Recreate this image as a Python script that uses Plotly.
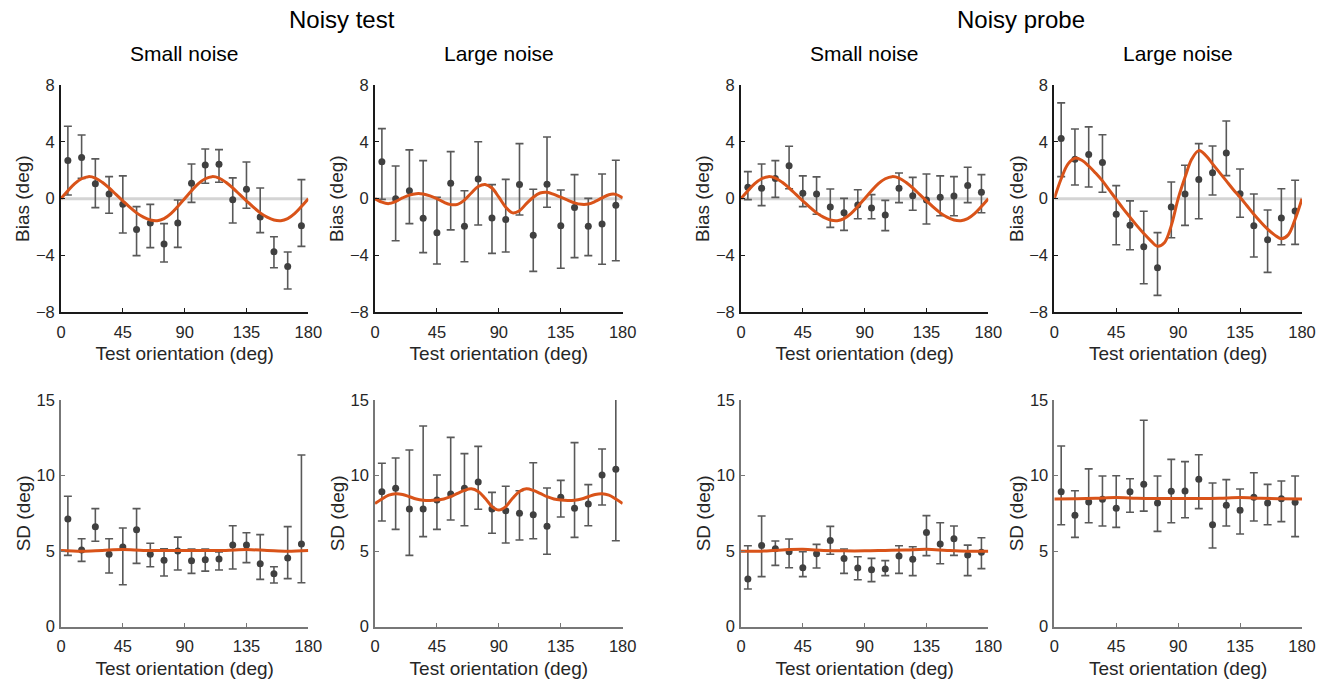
import plotly.graph_objects as go

# ---------------- data ----------------
orient = [5, 15, 25, 35, 45, 55, 65, 75, 85, 95, 105, 115, 125, 135, 145, 155, 165, 175]
grid5 = list(range(0, 181, 5))
grid15 = list(range(0, 181, 15))

# Noisy test, small noise, bias
t_small_bias = [2.68, 2.9, 1.05, 0.33, -0.4, -2.18, -1.71, -3.19, -1.71, 1.08, 2.37, 2.42, -0.07, 0.66, -1.29, -3.73, -4.77, -1.9]
t_small_bias_hi = [5.1, 4.48, 2.8, 1.55, 1.6, -0.56, -0.4, -1.76, -0.09, 2.44, 3.5, 3.45, 1.46, 2.58, 0.75, -2.68, -3.76, 1.34]
t_small_bias_lo = [0.26, 1.43, -0.63, -1.03, -2.42, -4.01, -3.45, -4.46, -3.43, -0.26, 1.08, 1.15, -1.71, -0.68, -2.39, -4.86, -6.36, -3.36]

# Noisy test, large noise, bias
t_large_bias = [2.6, 0.0, 0.56, -1.38, -2.4, 1.08, -1.95, 1.38, -1.36, -1.46, 0.99, -2.58, 1.01, -1.9, -0.63, -1.95, -1.78, -0.47]
t_large_bias_hi = [4.93, 2.3, 3.43, 2.68, 0.1, 3.31, 0.56, 4.01, 0.99, 1.36, 3.87, 0.66, 4.34, 0.61, 1.69, 0.02, 1.74, 2.7]
t_large_bias_lo = [-0.05, -2.96, -1.76, -3.8, -4.6, -2.2, -4.44, -1.85, -3.85, -3.76, -1.15, -5.12, -0.61, -4.9, -4.15, -4.01, -4.62, -4.37]

# Noisy probe, small noise, bias
p_small_bias = [0.8, 0.73, 1.41, 2.32, 0.38, 0.33, -0.59, -0.99, -0.45, -0.66, -1.15, 0.73, 0.21, -0.09, 0.09, 0.19, 0.92, 0.45]
p_small_bias_hi = [1.9, 2.44, 2.68, 3.69, 1.6, 1.53, 0.68, 0.02, 0.63, 0.28, -0.12, 1.81, 1.5, 1.74, 1.6, 1.55, 2.21, 1.69]
p_small_bias_lo = [-0.07, -0.49, 0.09, 0.7, -0.56, -1.1, -2.02, -2.23, -1.41, -1.41, -2.25, -0.28, -0.82, -1.78, -1.2, -1.2, -0.28, -0.99]

# Noisy probe, large noise, bias
p_large_bias = [4.23, 2.77, 3.1, 2.54, -1.1, -1.88, -3.38, -4.86, -0.59, 0.33, 1.34, 1.83, 3.22, 0.35, -1.9, -2.89, -1.36, -0.87]
p_large_bias_hi = [6.74, 4.9, 5.05, 4.5, 0.92, -0.16, -0.89, -2.39, 1.17, 2.35, 3.87, 3.71, 5.47, 2.09, 0.33, -0.8, 0.7, 1.29]
p_large_bias_lo = [1.55, 0.96, 0.82, 0.45, -3.24, -3.6, -5.99, -6.81, -2.75, -1.88, -1.41, 0.26, 1.62, -1.31, -4.11, -5.19, -3.24, -3.22]

# Noisy test, small noise, SD
t_small_sd = [7.13, 5.07, 6.62, 4.79, 5.27, 6.42, 4.79, 4.39, 5.01, 4.37, 4.43, 4.48, 5.4, 5.4, 4.17, 3.51, 4.54, 5.47]
t_small_sd_hi = [8.63, 5.82, 7.81, 5.82, 6.53, 7.81, 5.52, 5.16, 5.93, 5.14, 5.14, 4.94, 6.68, 6.22, 6.09, 3.97, 6.62, 11.36]
t_small_sd_lo = [4.72, 4.32, 5.65, 3.55, 2.78, 4.19, 3.97, 3.35, 3.75, 3.53, 3.68, 3.75, 3.82, 4.24, 3.13, 2.89, 3.18, 2.91]

# Noisy test, large noise, SD
t_large_sd = [8.93, 9.16, 7.79, 7.79, 8.38, 8.78, 9.16, 9.57, 7.79, 7.68, 7.5, 7.41, 6.64, 8.56, 7.83, 8.12, 10.04, 10.41]
t_large_sd_hi = [10.81, 11.16, 11.69, 13.28, 10.04, 12.53, 11.45, 11.93, 8.89, 9.29, 9.0, 10.85, 9.18, 9.68, 12.18, 9.4, 11.76, 16.0]
t_large_sd_lo = [6.99, 6.44, 4.72, 5.96, 6.44, 7.06, 6.68, 7.77, 6.18, 5.54, 5.74, 5.82, 4.79, 7.26, 5.91, 6.68, 8.05, 5.69]

# Noisy probe, small noise, SD
p_small_sd = [3.15, 5.38, 5.16, 4.96, 3.9, 4.83, 5.71, 4.52, 3.88, 3.77, 3.82, 4.68, 4.46, 6.24, 5.47, 5.82, 4.74, 4.92]
p_small_sd_hi = [5.36, 7.32, 5.67, 5.8, 4.96, 5.45, 6.64, 5.14, 4.63, 4.52, 4.37, 5.36, 5.29, 7.35, 6.88, 6.66, 5.4, 5.89]
p_small_sd_lo = [2.49, 3.31, 4.06, 3.9, 3.31, 3.88, 4.79, 3.53, 3.11, 2.98, 3.38, 3.53, 3.38, 4.7, 4.17, 4.72, 3.38, 3.84]

# Noisy probe, large noise, SD
p_large_sd = [8.93, 7.37, 8.25, 8.43, 7.83, 8.93, 9.42, 8.18, 8.96, 8.98, 9.75, 6.75, 8.03, 7.7, 8.56, 8.18, 8.47, 8.23]
p_large_sd_hi = [11.96, 9.0, 10.44, 9.97, 9.99, 9.79, 13.66, 9.97, 11.07, 10.92, 11.38, 9.51, 9.73, 9.11, 10.19, 9.42, 9.64, 9.97]
p_large_sd_lo = [6.75, 5.91, 6.88, 6.66, 6.57, 7.57, 7.65, 6.31, 6.88, 7.21, 7.81, 5.21, 6.66, 6.13, 6.99, 6.75, 6.95, 5.96]

# Model curves
fit_small_bias = [0, 0.55, 1.05, 1.4, 1.55, 1.45, 1.15, 0.75, 0.3, -0.15, -0.6, -1.0, -1.3, -1.5, -1.55, -1.4, -1.05, -0.55, 0.0,
                  0.55, 1.05, 1.4, 1.55, 1.45, 1.15, 0.75, 0.3, -0.15, -0.6, -1.0, -1.3, -1.5, -1.55, -1.4, -1.05, -0.55, 0.0]
fit_t_large_bias = [0.0, -0.25, -0.35, -0.2, 0.05, 0.25, 0.35, 0.33, 0.2, 0.0, -0.25, -0.42, -0.4, -0.1, 0.4, 0.85, 1.0, 0.75, 0.1,
                    -0.6, -1.0, -0.85, -0.35, 0.1, 0.4, 0.45, 0.3, 0.1, -0.1, -0.3, -0.4, -0.38, -0.2, 0.05, 0.28, 0.3, 0.05]
fit_p_large_bias = [0, 1.4, 2.45, 2.85, 2.7, 2.3, 1.8, 1.25, 0.6, -0.05, -0.7, -1.3, -1.9, -2.45, -2.95, -3.35, -3.1, -1.9, 0.0,
                    1.5, 2.8, 3.38, 3.05, 2.45, 1.85, 1.25, 0.65, 0.1, -0.5, -1.1, -1.65, -2.15, -2.55, -2.82, -2.55, -1.45, 0.0]
fit_t_large_sd = [8.15, 8.45, 8.7, 8.8, 8.75, 8.6, 8.45, 8.37, 8.35, 8.38, 8.45, 8.6, 8.82, 9.02, 9.12, 8.95, 8.5, 7.95, 7.72,
                  7.95, 8.5, 8.95, 9.12, 9.02, 8.82, 8.6, 8.45, 8.38, 8.35, 8.37, 8.45, 8.6, 8.75, 8.8, 8.7, 8.45, 8.15]
fit_t_small_sd = [5.05, 5.0, 5.05, 5.1, 5.05, 5.05, 5.05, 5.05, 5.05, 5.1, 5.05, 5.0, 5.05]
fit_p_small_sd = [5.0, 5.0, 5.08, 5.12, 5.05, 5.02, 5.02, 5.05, 5.08, 5.12, 5.05, 5.0, 5.0]
fit_p_large_sd = [8.45, 8.47, 8.5, 8.55, 8.5, 8.48, 8.48, 8.48, 8.5, 8.55, 8.5, 8.47, 8.45]

zero_x = [0, 180]
zero_y = [0, 0]

x_ticks = [0, 45, 90, 135, 180]
bias_ticks = [-8, -4, 0, 4, 8]
sd_ticks = [0, 5, 10, 15]

group_titles = ["Noisy test", "Noisy probe"]
panel_titles = ["Small noise", "Large noise", "Small noise", "Large noise"]

# ---------------- styling / layout ----------------
W, H = 1329, 686
FONT = "Liberation Sans, Arial, sans-serif"
TXT = "#262626"
PT = "#404040"
ERR = "#595959"
FIT = "#D95319"

col_px = [(61, 308.3), (375, 622.7), (741, 988.3), (1054.3, 1302)]
row_px = [(85, 312.3), (400, 626.7)]

panels = [
    # row, col, mean, hi, lo, fit_x, fit_y, kind
    (0, 0, t_small_bias, t_small_bias_hi, t_small_bias_lo, grid5, fit_small_bias, "bias"),
    (0, 1, t_large_bias, t_large_bias_hi, t_large_bias_lo, grid5, fit_t_large_bias, "bias"),
    (0, 2, p_small_bias, p_small_bias_hi, p_small_bias_lo, grid5, fit_small_bias, "bias"),
    (0, 3, p_large_bias, p_large_bias_hi, p_large_bias_lo, grid5, fit_p_large_bias, "bias"),
    (1, 0, t_small_sd, t_small_sd_hi, t_small_sd_lo, grid15, fit_t_small_sd, "sd"),
    (1, 1, t_large_sd, t_large_sd_hi, t_large_sd_lo, grid5, fit_t_large_sd, "sd"),
    (1, 2, p_small_sd, p_small_sd_hi, p_small_sd_lo, grid15, fit_p_small_sd, "sd"),
    (1, 3, p_large_sd, p_large_sd_hi, p_large_sd_lo, grid15, fit_p_large_sd, "sd"),
]

fig = go.Figure()
layout = dict(
    width=W, height=H, margin=dict(l=0, r=0, t=0, b=0, autoexpand=False),
    paper_bgcolor="white", plot_bgcolor="white", showlegend=False,
    font=dict(family=FONT, color=TXT),
)

for i, (r, c, m, hi, lo, fx, fy, kind) in enumerate(panels):
    n = i + 1
    xa = "x" if n == 1 else f"x{n}"
    ya = "y" if n == 1 else f"y{n}"
    xkey = "xaxis" if n == 1 else f"xaxis{n}"
    ykey = "yaxis" if n == 1 else f"yaxis{n}"
    x0, x1 = col_px[c]
    y0, y1 = row_px[r]
    linecol = "#1a1a1a" if kind == "bias" else "#777777"
    linew = 2 if kind == "bias" else 1.5

    if kind == "bias":
        fig.add_trace(go.Scatter(x=zero_x, y=zero_y, mode="lines", xaxis=xa, yaxis=ya,
                                 line=dict(color="#d4d4d4", width=3), hoverinfo="skip"))
    fig.add_trace(go.Scatter(
        x=orient, y=m, mode="markers", xaxis=xa, yaxis=ya,
        marker=dict(color=PT, size=7),
        error_y=dict(type="data", symmetric=False,
                     array=[h - v for h, v in zip(hi, m)],
                     arrayminus=[v - l for v, l in zip(m, lo)],
                     color=ERR, thickness=1.6, width=4),
    ))
    fig.add_trace(go.Scatter(x=fx, y=fy, mode="lines", xaxis=xa, yaxis=ya,
                             line=dict(color=FIT, width=3, shape="spline", smoothing=1.0)))

    layout[xkey] = dict(
        domain=[x0 / W, x1 / W], anchor=ya, range=[0, 180], tickvals=x_ticks,
        ticks="inside", ticklen=4, tickwidth=1, tickcolor=linecol,
        showline=True, linecolor=linecol, linewidth=linew,
        showgrid=False, zeroline=False, automargin=False,
        tickfont=dict(size=16.5, color=TXT), ticklabelstandoff=4,
        title=dict(text="Test orientation (deg)", font=dict(size=19, color=TXT), standoff=7),
    )
    layout[ykey] = dict(
        domain=[1 - y1 / H, 1 - y0 / H], anchor=xa,
        range=[-8, 8] if kind == "bias" else [0, 15],
        tickvals=bias_ticks if kind == "bias" else sd_ticks,
        ticks="inside", ticklen=4, tickwidth=1, tickcolor=linecol,
        showline=True, linecolor=linecol, linewidth=linew,
        showgrid=False, zeroline=False, automargin=False,
        tickfont=dict(size=16.5, color=TXT), ticklabelstandoff=1,
        title=dict(text="Bias (deg)" if kind == "bias" else "SD (deg)",
                   font=dict(size=19, color=TXT), standoff=1),
    )

annotations = []
group_centers = [(184.7 + 498.8) / 2, (864.6 + 1178.1) / 2]
for t, cx in zip(group_titles, group_centers):
    annotations.append(dict(text=t, x=cx / W, y=1 - 19 / H, xref="paper", yref="paper",
                            xanchor="center", yanchor="middle", showarrow=False,
                            font=dict(size=24, color="black", family=FONT)))
for t, (a, b) in zip(panel_titles, col_px):
    annotations.append(dict(text=t, x=(a + b) / 2 / W, y=1 - 54 / H, xref="paper", yref="paper",
                            xanchor="center", yanchor="middle", showarrow=False,
                            font=dict(size=21, color="black", family=FONT)))
layout["annotations"] = annotations

fig.update_layout(**layout)
fig.write_html("out.html", config={"displayModeBar": False},
               post_script="document.body.style.margin='0';")
